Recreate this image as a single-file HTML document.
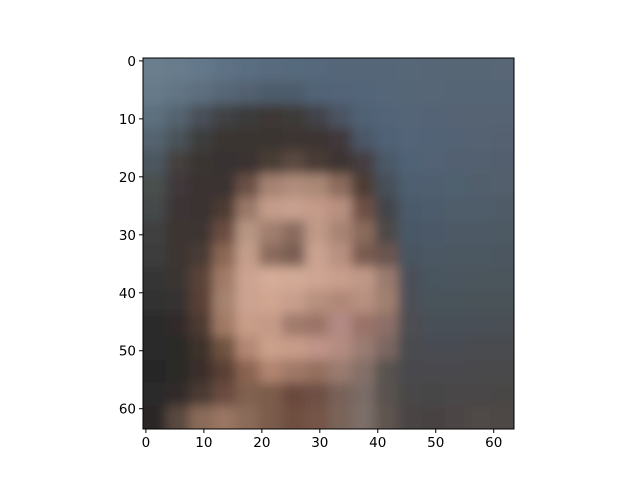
<!DOCTYPE html>
<html><head><meta charset="utf-8"><style>
body{margin:0;background:#fff;}
svg text{font-family:"DejaVu Sans","Liberation Sans",sans-serif;font-size:13.5px;fill:#000;}
</style></head><body>
<svg id="chart" width="640" height="480" viewBox="0 0 640 480">
<defs>
<clipPath id="clip"><rect x="143" y="58" width="371" height="371"/></clipPath>
<filter id="blur" filterUnits="userSpaceOnUse" x="100" y="20" width="460" height="450"><feGaussianBlur stdDeviation="5.5"/></filter>
</defs>
<rect width="640" height="480" fill="#fff"/>
<g clip-path="url(#clip)"><g id="cells" filter="url(#blur)"></g></g>
<rect x="143" y="58" width="371" height="371" fill="none" stroke="#000" stroke-width="1"/>
<g id="axes"></g>
</svg>
<script>
const rows = [
"#6a7e8e #687c8c #64788a #5e7285 #5a6e82 #586b7e #566a7d #55687b #546679 #546678 #556678 #566778 #566676 #566675 #576674 #586674",
"#667a8a #627484 #5d6e7e #566676 #526070 #4e5b6a #4e5c6c #516476 #526478 #536578 #546678 #556676 #566676 #566575 #566574 #576574",
"#5d6f7e #55646f #4a5058 #3f4244 #3b3a3a #3c3836 #3e3a38 #42434a #4b5564 #506274 #536478 #546578 #546476 #556474 #556373 #566372",
"#556470 #4a5258 #3e3e3e #3a3532 #3a3430 #3b3430 #3d3530 #3e3632 #40393a #4b5666 #506276 #526478 #536476 #536374 #546272 #546170",
"#4c5760 #443f3e #3b3432 #383230 #3a3230 #4a3c36 #5a4840 #4a3a34 #3e3430 #443e40 #4c5868 #506276 #526274 #526172 #536070 #535f6e",
"#48504e #40383a #3a3230 #3a3230 #6a5044 #a48272 #b08c7c #aa8876 #8a6a5c #4e3c36 #465058 #4e5e70 #505f70 #50606e #515f6c #525e6c",
"#444848 #3e3634 #3a3230 #4c3a32 #9a7868 #c49c8a #c8a090 #c49a88 #b89080 #6e5044 #434448 #4b5a6a #4e5c6c #4f5c6a #505c6a #505c68",
"#404040 #3c3432 #3e3430 #6a4c40 #b89684 #a07e6e #8a6c5e #c09a88 #a88474 #8a6a5c #4e4846 #4a5866 #4c5968 #4d5a66 #4e5a66 #4e5a64",
"#3c3c3c #3c3432 #4a3a34 #8a6654 #c49e8a #8a6a5c #7a5e52 #caa290 #b89080 #7a5c50 #6a5450 #4a5560 #4c5864 #4c5862 #4c5862 #4c5760",
"#363636 #3a3432 #5a4238 #a07a66 #cca290 #d4ac98 #d2aa96 #ceA492 #c89e8c #c09888 #9a7c6e #4c5058 #4a555e #4b555e #4b545c #4b545c",
"#303030 #363230 #5a4034 #a68270 #cca290 #d0a690 #c89e8c #b8907e #b08878 #b89080 #a08070 #4e5056 #4a525a #4a525a #4a5258 #4a5258",
"#2c2c2c #302c2a #4e3a32 #a27a66 #c89e88 #c49a88 #a07a6c #9c7468 #b48a84 #9a7268 #8c7068 #4e4e52 #4a5056 #4a5056 #4a5056 #4a5054",
"#2a2a2a #2c2a28 #3e302c #705240 #b48874 #caa08a #c89c88 #c09488 #b48c80 #9a7c72 #7c6660 #4a4c50 #4a4c52 #4a4c52 #4a4c50 #4a4c50",
"#282828 #2c2a28 #3a2e2a #5a4034 #8a6450 #b08470 #a07868 #94705e #9a7c6e #847068 #585250 #484a4e #484a4e #484a4e #48484c #48484c",
"#2a2a2a #302c2a #4a3a32 #6a4c40 #806050 #7c5c4c #6a4a3c #6e5044 #786258 #7a6c66 #5a5250 #484646 #464646 #484646 #4a4646 #4a4644",
"#2a2828 #5a4a40 #8a6a58 #9a7664 #8a6a58 #7a5c4c #6e5040 #745446 #7a6458 #7c6e68 #5e5450 #4a4444 #4a4242 #4c4444 #504846 #4e4644"
];
const xTicks = [0,10,20,30,40,50,60];
const yTicks = [0,10,20,30,40,50,60];
const NPIX = 64, X0 = 143, Y0 = 58, W = 371;
const sc = W / NPIX;
function px(v){ return X0 + (v + 0.5) * sc; }
function py(v){ return Y0 + (v + 0.5) * sc; }
const NS = "http://www.w3.org/2000/svg";
const cells = document.getElementById('cells');
const grid = rows.map(r => r.split(' '));
const n = grid.length, block = NPIX / n, cw = block * sc, PAD = 30;
grid.forEach((row, i) => row.forEach((c, j) => {
  let x = X0 + j * cw, y = Y0 + i * cw, w = cw + 0.6, h = cw + 0.6;
  if (j === 0) { x -= PAD; w += PAD; }
  if (j === n - 1) { w += PAD; }
  if (i === 0) { y -= PAD; h += PAD; }
  if (i === n - 1) { h += PAD; }
  const r = document.createElementNS(NS, 'rect');
  r.setAttribute('x', x);
  r.setAttribute('y', y);
  r.setAttribute('width', w);
  r.setAttribute('height', h);
  r.setAttribute('fill', c);
  
  
  cells.appendChild(r);
}));
const axes = document.getElementById('axes');
xTicks.forEach(t => {
  const l = document.createElementNS(NS, 'line');
  l.setAttribute('x1', px(t)); l.setAttribute('x2', px(t));
  l.setAttribute('y1', Y0 + W); l.setAttribute('y2', Y0 + W + 4);
  l.setAttribute('stroke', '#000');
  
  
  axes.appendChild(l);
  const tx = document.createElementNS(NS, 'text');
  tx.setAttribute('x', px(t)); tx.setAttribute('y', Y0 + W + 18);
  tx.setAttribute('text-anchor', 'middle');
  tx.textContent = t;
  
  
  axes.appendChild(tx);
});
yTicks.forEach(t => {
  const l = document.createElementNS(NS, 'line');
  l.setAttribute('x1', X0 - 4); l.setAttribute('x2', X0);
  l.setAttribute('y1', py(t)); l.setAttribute('y2', py(t));
  l.setAttribute('stroke', '#000');
  
  
  axes.appendChild(l);
  const tx = document.createElementNS(NS, 'text');
  tx.setAttribute('x', X0 - 7); tx.setAttribute('y', py(t) + 5);
  tx.setAttribute('text-anchor', 'end');
  tx.textContent = t;
  
  
  axes.appendChild(tx);
});
</script>
</body></html>
